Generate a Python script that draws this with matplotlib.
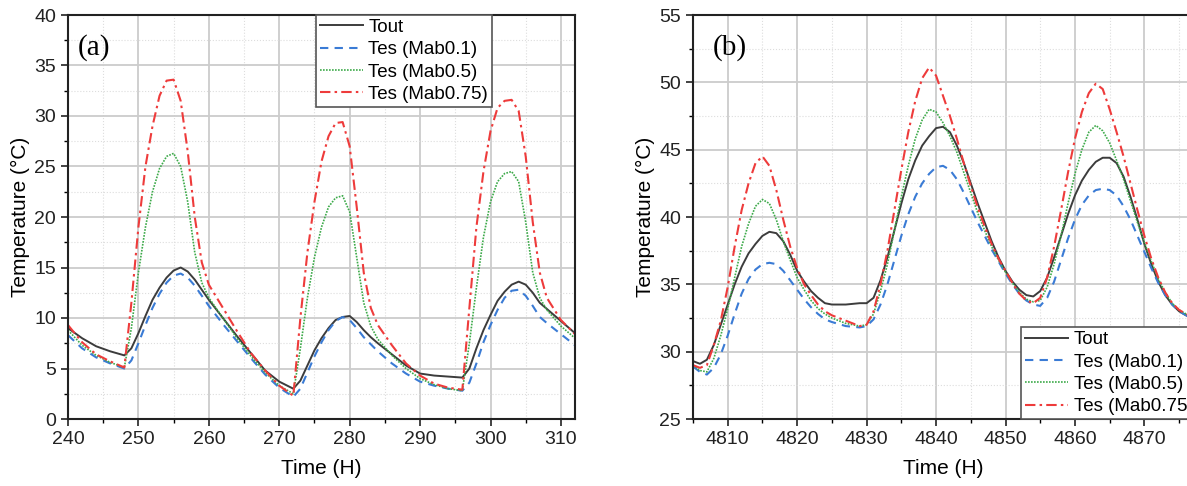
import numpy as np
import matplotlib
matplotlib.use("Agg")
import matplotlib.pyplot as plot
from matplotlib.ticker import MultipleLocator

plot.rcParams['font.family'] = ['Liberation Sans', 'DejaVu Sans']

# ---- panel (a) data ----
time_a = [240, 242, 244, 246, 248, 249, 250, 251, 252, 253, 254, 255, 256, 257, 258, 259, 260,
          262, 264, 266, 268, 270, 272, 273, 274, 275, 276, 277, 278, 279, 280, 281, 282, 283,
          284, 286, 288, 290, 292, 294, 296, 297, 298, 299, 300, 301, 302, 303, 304, 305, 306,
          307, 308, 310, 312]
tout_a = [9.0, 8.0, 7.2, 6.7, 6.3, 7.0, 8.5, 10.2, 11.8, 13.0, 14.0, 14.7, 15.0, 14.6, 13.8, 12.8, 11.8,
          10.0, 8.2, 6.5, 4.8, 3.7, 3.0, 3.8, 5.3, 6.8, 8.0, 9.0, 9.8, 10.1, 10.2, 9.6, 8.8, 8.1,
          7.5, 6.4, 5.3, 4.5, 4.3, 4.2, 4.1, 5.0, 7.0, 8.8, 10.3, 11.7, 12.6, 13.3, 13.6, 13.3, 12.5,
          11.5, 10.9, 9.7, 8.5]
tes01_a = [8.3, 7.0, 6.1, 5.5, 5.0, 5.8, 7.5, 9.3, 11.0, 12.4, 13.5, 14.2, 14.4, 14.0, 13.2, 12.2, 11.2,
           9.4, 7.7, 6.0, 4.4, 3.1, 2.2, 3.0, 4.6, 6.2, 7.6, 8.8, 9.7, 10.1, 9.8, 9.0, 8.1, 7.4,
           6.7, 5.5, 4.5, 3.7, 3.3, 3.0, 2.8, 3.6, 5.5, 7.6, 9.3, 10.8, 12.0, 12.7, 12.8, 12.2, 11.2,
           10.1, 9.5, 8.4, 7.3]
tes05_a = [8.8, 7.3, 6.3, 5.6, 5.1, 9.0, 14.5, 19.0, 22.5, 24.8, 26.0, 26.3, 25.0, 21.5, 16.5, 13.5, 12.0,
           10.0, 8.0, 6.2, 4.6, 3.3, 2.5, 7.0, 12.0, 16.0, 19.0, 21.0, 21.9, 22.1, 20.5, 16.0, 11.5, 9.2,
           7.9, 6.3, 5.0, 4.0, 3.4, 3.0, 2.8, 7.5, 13.0, 18.0, 21.5, 23.5, 24.3, 24.5, 23.5, 19.5, 14.5,
           12.0, 10.8, 9.2, 8.0]
tes075_a = [9.3, 7.6, 6.4, 5.7, 5.1, 11.5, 19.0, 25.0, 29.0, 32.0, 33.5, 33.6, 31.5, 26.5, 20.0, 15.5, 13.3,
            11.0, 8.7, 6.5, 4.8, 3.3, 2.3, 10.0, 16.5, 21.5, 25.5, 28.0, 29.3, 29.4, 27.0, 21.0, 14.5, 11.0,
            9.3, 7.3, 5.5, 4.3, 3.5, 3.1, 2.9, 11.0, 19.0, 24.5, 28.5, 30.8, 31.5, 31.6, 30.5, 26.0, 19.5,
            14.5, 12.0, 9.8, 8.4]

# ---- panel (b) data ----
time_b = [4805, 4806, 4807, 4808, 4809, 4810, 4811, 4812, 4813, 4814, 4815, 4816, 4817, 4818, 4819,
          4820, 4821, 4822, 4823, 4824, 4825, 4827, 4829, 4830, 4831, 4832, 4833, 4834, 4835, 4836,
          4837, 4838, 4839, 4840, 4841, 4842, 4843, 4844, 4845, 4846, 4847, 4848, 4849, 4850, 4851,
          4852, 4853, 4854, 4855, 4856, 4857, 4858, 4859, 4860, 4861, 4862, 4863, 4864, 4865, 4866,
          4867, 4868, 4869, 4870, 4871, 4872, 4873, 4874, 4875, 4876, 4877]
tout_b = [29.3, 29.1, 29.4, 30.5, 32.0, 33.5, 35.0, 36.3, 37.3, 38.0, 38.6, 38.9, 38.8, 38.2, 37.2,
          36.0, 35.2, 34.5, 34.0, 33.6, 33.5, 33.5, 33.6, 33.6, 34.0, 35.3, 37.0, 39.0, 41.0, 42.8,
          44.2, 45.3, 46.0, 46.6, 46.7, 46.3, 45.3, 44.0, 42.5, 41.0, 39.6, 38.2, 37.0, 36.0, 35.2,
          34.6, 34.2, 34.1, 34.5, 35.5, 37.0, 38.6, 40.2, 41.6, 42.7, 43.5, 44.1, 44.4, 44.4, 44.0,
          43.0, 41.5, 39.8, 38.0, 36.5, 35.2, 34.2, 33.5, 33.0, 32.7, 32.5]
tes01_b = [28.9, 28.5, 28.3, 28.8, 29.8, 31.2, 32.8, 34.3, 35.4, 36.1, 36.5, 36.6, 36.5, 36.0, 35.3,
           34.6, 33.9, 33.3, 32.8, 32.4, 32.2, 31.9, 31.8, 31.9, 32.4, 33.5, 35.0, 36.8, 38.6, 40.2,
           41.5, 42.5, 43.2, 43.7, 43.8, 43.5, 42.8, 41.8, 40.7, 39.6, 38.6, 37.6, 36.7, 35.8, 35.0,
           34.3, 33.8, 33.5, 33.4, 34.0, 35.2, 36.8, 38.4, 39.8, 40.9, 41.6, 42.0, 42.1, 42.0, 41.6,
           40.8, 39.8, 38.6, 37.4, 36.2, 35.1, 34.2, 33.5, 33.0, 32.7, 32.4]
tes05_b = [29.0, 28.6, 28.5, 29.5, 31.2, 33.2, 35.5, 37.8, 39.5, 40.8, 41.3, 41.0, 39.8, 38.2, 36.8,
           35.5, 34.6, 33.8, 33.2, 32.8, 32.5, 32.1, 31.9, 32.0, 32.8, 34.5, 36.5, 39.0, 41.5, 43.8,
           45.8, 47.2, 48.0, 47.8, 47.0, 46.0, 44.8, 43.3, 41.8, 40.3, 39.0, 37.8, 36.8, 35.9, 35.1,
           34.4, 33.9, 33.7, 33.8, 34.8, 36.5, 38.6, 41.0, 43.2, 45.0, 46.3, 46.8, 46.4, 45.5, 44.2,
           42.8, 41.2, 39.6, 38.1, 36.7, 35.4, 34.4, 33.6, 33.1, 32.8, 32.5]
tes075_b = [29.0, 28.8, 29.0, 30.5, 32.3, 34.8, 37.8, 40.5, 42.5, 44.0, 44.5, 43.8, 42.0, 39.8, 37.8,
            36.2, 35.0, 34.2, 33.5, 33.0, 32.7, 32.3, 31.9, 32.0, 33.0, 35.0, 37.5, 40.5, 43.5, 46.3,
            48.6, 50.3, 51.1, 50.5, 49.0, 47.5, 45.8, 44.0, 42.3, 40.7, 39.3, 38.0, 36.9, 36.0, 35.1,
            34.3, 33.8, 33.6, 34.0, 35.5, 37.8, 40.5, 43.3, 45.8, 47.8, 49.2, 49.9, 49.5, 48.0, 46.3,
            44.5, 42.5, 40.5, 38.6, 36.9, 35.5, 34.4, 33.6, 33.1, 32.8, 32.6]

labels = ['Tout', 'Tes (Mab0.1)', 'Tes (Mab0.5)', 'Tes (Mab0.75)']
styles = [
    dict(color='#3c3c3c', linestyle='-', linewidth=1.4),
    dict(color='#3a7bd5', linestyle=(0, (4, 3)), linewidth=1.5),
    dict(color='#3daa4a', linestyle=(0, (1, 0.8)), linewidth=1.2),
    dict(color='#ee3b3b', linestyle=(0, (5, 2, 1.2, 2)), linewidth=1.5),
]

W, H = 1187, 486
fig = plot.figure(figsize=(W / 100, H / 100), dpi=100)

axA = fig.add_axes([68 / W, 67 / H, 507 / W, 404 / H])
axB = fig.add_axes([693 / W, 67 / H, 500 / W, 404 / H])


def style_axis(ax, xlim, ylim):
    ax.set_xlim(*xlim)
    ax.set_ylim(*ylim)
    ax.xaxis.set_major_locator(MultipleLocator(10))
    ax.xaxis.set_minor_locator(MultipleLocator(5))
    ax.yaxis.set_major_locator(MultipleLocator(5))
    ax.yaxis.set_minor_locator(MultipleLocator(2.5))
    ax.grid(which='major', color='#cccccc', linewidth=1.3, linestyle='-')
    ax.grid(which='minor', color='#dddddd', linewidth=0.8, linestyle=':')
    ax.set_axisbelow(True)
    ax.tick_params(which='major', direction='out', length=5, width=1.2, labelsize=14, colors='#222222')
    ax.tick_params(which='minor', direction='out', length=3, width=1.0)
    for s in ax.spines.values():
        s.set_linewidth(1.5)
        s.set_color('#222222')
    ax.set_xlabel('Time (H)', fontsize=15, labelpad=8)
    ax.set_ylabel('Temperature (°C)', fontsize=15, labelpad=3)


series_a = [tout_a, tes01_a, tes05_a, tes075_a]
series_b = [tout_b, tes01_b, tes05_b, tes075_b]

for data, lab, st in zip(series_a, labels, styles):
    axA.plot(time_a, data, label=lab, **st)
for data, lab, st in zip(series_b, labels, styles):
    axB.plot(time_b, data, label=lab, **st)

style_axis(axA, (240, 312), (0, 40))
style_axis(axB, (4805, 4877), (25, 55))

axA.text(0.02, 0.92, '(a)', transform=axA.transAxes, fontsize=21,
         family=['Liberation Serif', 'DejaVu Serif'], va='center', ha='left')
axB.text(0.04, 0.92, '(b)', transform=axB.transAxes, fontsize=21,
         family=['Liberation Serif', 'DejaVu Serif'], va='center', ha='left')

legend_kw = dict(fontsize=13.5, handlelength=2.3, handletextpad=0.3, labelspacing=0.28,
                 borderpad=0.2, borderaxespad=0, fancybox=False, framealpha=1,
                 edgecolor='#555555', bbox_transform=fig.transFigure)
legA = axA.legend(loc='upper left', bbox_to_anchor=(316 / W, 1 - 15 / H), **legend_kw)
legB = axB.legend(loc='lower left', bbox_to_anchor=(1021 / W, 67 / H), **legend_kw)
for leg in (legA, legB):
    leg.get_frame().set_linewidth(1.2)

fig.savefig('out.png', dpi=100)
